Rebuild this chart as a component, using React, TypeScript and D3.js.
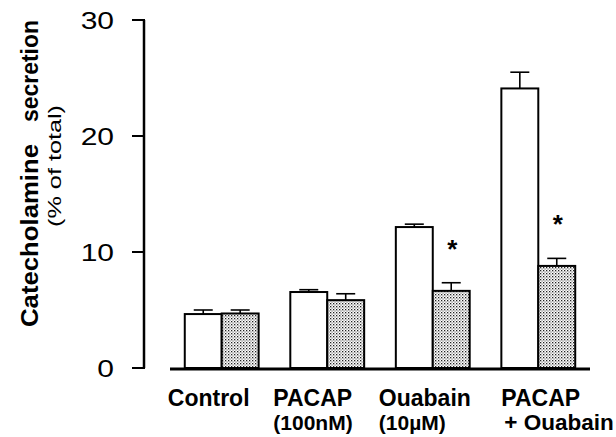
import React from 'react';
import { scaleBand, scaleLinear } from 'd3';

const groups = ['Control', 'PACAP', 'Ouabain', 'PACAP+Ouabain'];
const labelLine1 = ['Control', 'PACAP', 'Ouabain', 'PACAP'];
const labelLine2 = ['', '(100nM)', '(10\u00b5M)', '+ Ouabain'];
const series = ['open', 'dotted'];
const openMean = [4.65, 6.55, 12.15, 24.1];
const openErr = [0.35, 0.2, 0.25, 1.4];
const dottedMean = [4.7, 5.85, 6.65, 8.8];
const dottedErr = [0.3, 0.55, 0.7, 0.65];
const starred = [false, false, true, true];
const yTicks = [0, 10, 20, 30];

const font = 'Arial, "Liberation Sans", Helvetica, sans-serif';

export default function App() {
  const width = 616;
  const height = 437;
  const y = scaleLinear().domain([0, 30]).range([368, 20]);
  const x = scaleBand().domain(groups).range([170, 590]).paddingInner(0.3).paddingOuter(0.14);
  const sub = scaleBand().domain(series).range([0, x.bandwidth()]);
  const bw = sub.bandwidth();

  const bars = groups.flatMap((g, i) => [
    { g, s: 'open', v: openMean[i], e: openErr[i], star: false },
    { g, s: 'dotted', v: dottedMean[i], e: dottedErr[i], star: starred[i] },
  ]);

  return (
    <svg width={width} height={height} style={{ position: 'absolute', left: 0, top: 0, background: '#fff' }} fontFamily={font}>
      <defs>
        <pattern id="stipple" width="3" height="3" patternUnits="userSpaceOnUse">
          <rect width="3" height="3" fill="#fff" />
          <rect x="0" y="0" width="1.3" height="1.3" fill="#222" />
          <rect x="1.5" y="1.5" width="1.1" height="1.1" fill="#555" />
        </pattern>
      </defs>

      {/* y axis */}
      <line x1={144} x2={144} y1={y(30)} y2={y(0)} stroke="#000" strokeWidth={2.5} />
      {yTicks.map(t => (
        <g key={t}>
          <line x1={132} x2={145} y1={y(t)} y2={y(t)} stroke="#000" strokeWidth={2} />
          <text transform={`translate(114,${y(t) + 8.5}) scale(1.25,1)`} textAnchor="end" fontSize={24}>{t}</text>
        </g>
      ))}
      <g transform="translate(38,0) rotate(-90)" fontWeight="bold" fontSize={24}>
        <text x={-327} y={0} textLength={183} lengthAdjust="spacingAndGlyphs">Catecholamine</text>
        <text x={-122} y={0} textLength={102} lengthAdjust="spacingAndGlyphs">secretion</text>
      </g>
      <text transform="translate(61,227) rotate(-90)" fontSize={19} textLength={122} lengthAdjust="spacingAndGlyphs">
        (% of total)
      </text>

      {/* bars */}
      {bars.map(b => {
        const bx = (x(b.g) as number) + (sub(b.s) as number);
        const cx = bx + bw / 2;
        return (
          <g key={b.g + b.s}>
            <line x1={cx} x2={cx} y1={y(b.v)} y2={y(b.v + b.e)} stroke="#000" strokeWidth={1.6} />
            <line x1={cx - 9.5} x2={cx + 9.5} y1={y(b.v + b.e)} y2={y(b.v + b.e)} stroke="#000" strokeWidth={1.6} />
            <rect x={bx} y={y(b.v)} width={bw} height={y(0) - y(b.v)}
              fill={b.s === 'open' ? '#fff' : 'url(#stipple)'} stroke="#000" strokeWidth={2} />
            {b.star && (
              <text x={cx + 1} y={y(b.v + b.e) - 25} textAnchor="middle" fontSize={26} fontWeight="bold">*</text>
            )}
          </g>
        );
      })}

      {/* baseline */}
      <line x1={170} x2={590} y1={369} y2={369} stroke="#000" strokeWidth={3} />

      {/* x labels */}
      {groups.map((g, i) => {
        const last = i === groups.length - 1;
        const sx = (x(g) as number) + (last ? 0 : -17);
        return (
          <g key={g} fontWeight="bold">
            <text x={sx} y={406} fontSize={23}>{labelLine1[i]}</text>
            {labelLine2[i] && (
              <text x={last ? sx + 3 : sx} y={430} fontSize={last ? 22.5 : 21}>{labelLine2[i]}</text>
            )}
          </g>
        );
      })}
    </svg>
  );
}
